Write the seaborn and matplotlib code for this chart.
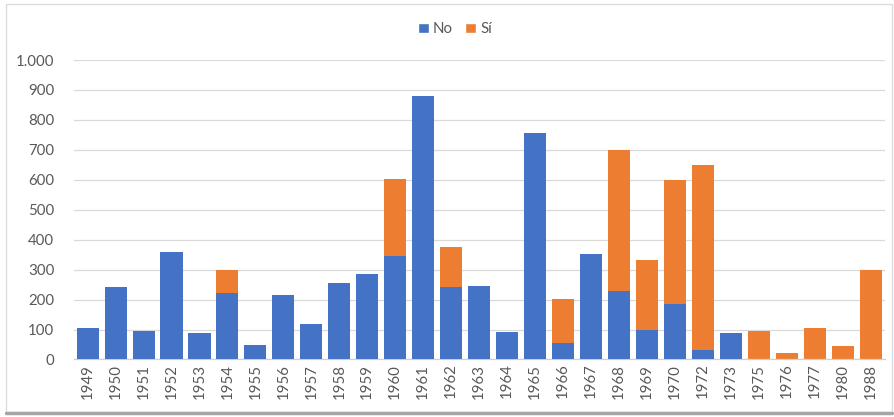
import matplotlib
matplotlib.use("Agg")
import matplotlib.pyplot as plt
from matplotlib.patches import Patch, Rectangle
from matplotlib.ticker import FuncFormatter, MultipleLocator
import seaborn as sns
import pandas as pd

years = ["1949", "1950", "1951", "1952", "1953", "1954", "1955", "1956", "1957",
         "1958", "1959", "1960", "1961", "1962", "1963", "1964", "1965", "1966",
         "1967", "1968", "1969", "1970", "1972", "1973", "1975", "1976", "1977",
         "1980", "1988"]
no_vals = [106, 243, 95, 360, 87, 221, 48, 214, 117,
           254, 285, 344, 881, 241, 245, 93, 757, 54,
           351, 229, 98, 185, 32, 87, 0, 0, 0,
           0, 0]
si_vals = [0, 0, 0, 0, 0, 79, 0, 0, 0,
           0, 0, 258, 0, 136, 0, 0, 0, 148,
           0, 472, 235, 415, 617, 0, 95, 23, 105,
           45, 300]

BLUE = "#4472C4"
ORANGE = "#ED7D31"
TEXT = "#595959"

df = pd.DataFrame({"year": years, "No": no_vals, "Sí": si_vals})
df["total"] = df["No"] + df["Sí"]

sns.set_style("white")
plt.rcParams["font.family"] = ["Lato", "DejaVu Sans"]

fig = plt.figure(figsize=(8.95, 4.17), dpi=100)
ax = fig.add_axes([0.0823, 0.1379, 0.9060, 0.7182])

# stacked bars: total (orange) first, then the "No" part (blue) over its base
sns.barplot(data=df, x="year", y="total", order=years, color=ORANGE,
            saturation=1, width=0.79, ax=ax, zorder=2, linewidth=0, edgecolor="none")
sns.barplot(data=df, x="year", y="No", order=years, color=BLUE,
            saturation=1, width=0.79, ax=ax, zorder=3, linewidth=0, edgecolor="none")

ax.set_ylim(0, 1000)
ax.set_xlim(-0.5, len(years) - 0.5)
ax.yaxis.set_major_locator(MultipleLocator(100))
ax.yaxis.set_major_formatter(FuncFormatter(lambda v, p: f"{int(v):,}".replace(",", ".")))
ax.grid(axis="y", color="#d9d9d9", linewidth=0.9, zorder=0)
ax.set_axisbelow(True)
for s in ["top", "right", "left"]:
    ax.spines[s].set_visible(False)
ax.spines["bottom"].set_color("#d0d0d0")
ax.spines["bottom"].set_linewidth(0.9)
ax.set_xlabel("")
ax.set_ylabel("")
ax.tick_params(axis="x", rotation=90, labelsize=10.8, colors=TEXT, length=0, pad=3)
ax.tick_params(axis="y", labelsize=10.8, colors=TEXT, length=0, pad=14)

handles = [Patch(facecolor=BLUE, label="No"), Patch(facecolor=ORANGE, label="Sí")]
fig.legend(handles=handles, loc="center", bbox_to_anchor=(455 / 895, 1 - 29 / 417),
           ncol=2, frameon=False, fontsize=10.8, handlelength=0.7, handleheight=0.7,
           handletextpad=0.3, columnspacing=0.8, labelcolor=TEXT)

# chart frame with a soft shadow along the bottom
fig.patches.append(Rectangle((6 / 895, 5 / 417), 886 / 895, 408 / 417,
                             transform=fig.transFigure, facecolor="none",
                             edgecolor="#dcdcdc", linewidth=1.0))
fig.lines.append(plt.Line2D([6 / 895, 892 / 895], [4 / 417, 4 / 417],
                            transform=fig.transFigure, color="#a6a6a6", linewidth=2.5))

fig.savefig("out.png", dpi=100)
